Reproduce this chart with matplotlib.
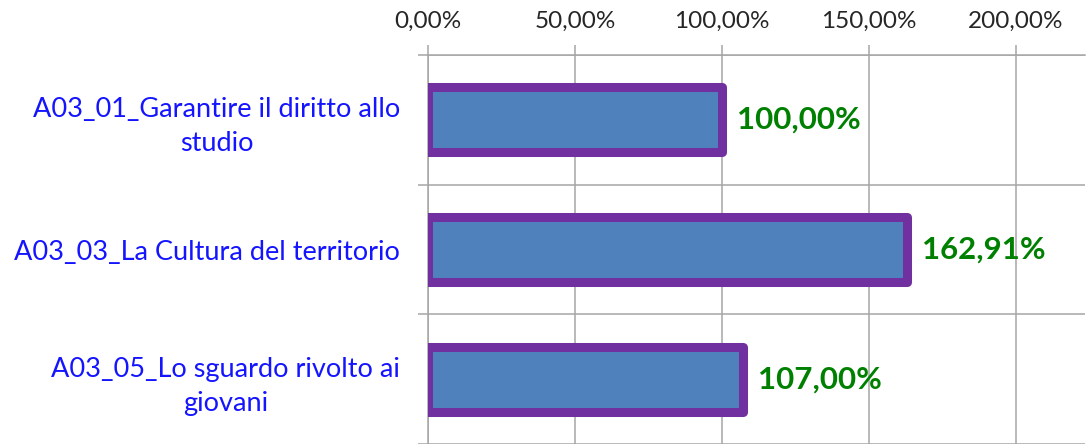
import matplotlib
matplotlib.use("Agg")
import matplotlib.pyplot as plt
from matplotlib.ticker import FuncFormatter, FixedLocator
import textwrap

# data
categories = ["A03_01_Garantire il diritto allo studio",
              "A03_03_La Cultura del territorio",
              "A03_05_Lo sguardo rivolto ai giovani"]
values = [100.00, 162.91, 107.00]
x_ticks = [0, 50, 100, 150, 200]

def pct(v, pos=None):
    return f"{v:.2f}".replace(".", ",") + "%"

plt.rcParams['font.family'] = ['Lato', 'DejaVu Sans']

fig = plt.figure(figsize=(10.9, 4.44), dpi=100)
ax = fig.add_axes([428 / 1090, 0.0, (1085 - 428) / 1090, 1 - 55 / 444])

grid_c = '#A6A6A6'
ypos = list(range(len(categories)))
ax.barh(ypos, values, height=0.5, color='#4F81BD', edgecolor='#7030A0',
        linewidth=6.5, joinstyle='round', zorder=3)

# data labels, offset in points from the bar end
for y, v in zip(ypos, values):
    ax.annotate(pct(v), (v, y), xytext=(11, 0), textcoords='offset points',
                color='#008000', fontsize=22.5, fontweight='bold',
                ha='left', va='center', zorder=4)

ax.set_xlim(0, 223.5)
ax.set_ylim(len(categories) - 0.5, -0.5)

ax.xaxis.tick_top()
ax.set_xticks(x_ticks)
ax.xaxis.set_major_formatter(FuncFormatter(pct))
ax.tick_params(axis='x', which='major', length=7.5, width=1.1, color=grid_c,
               labelsize=17.5, labelcolor='#262626', pad=9)
ax.grid(axis='x', which='major', color=grid_c, linewidth=1.1, zorder=0)

ax.set_yticks(ypos)
ax.set_yticklabels([textwrap.fill(c, 32) for c in categories],
                   color='#1414FF', fontsize=19.5, multialignment='center',
                   linespacing=1.45)
ax.tick_params(axis='y', which='major', length=0, pad=20)
ax.yaxis.set_minor_locator(FixedLocator([-0.5, 0.5, 1.5, 2.5]))
ax.tick_params(axis='y', which='minor', length=7.5, width=1.1, color=grid_c)
ax.grid(axis='y', which='minor', color=grid_c, linewidth=1.1, zorder=0)

for s in ['right', 'bottom']:
    ax.spines[s].set_visible(False)
for s in ['top', 'left']:
    ax.spines[s].set_color(grid_c)
    ax.spines[s].set_linewidth(1.1)

fig.savefig("out.png", dpi=100)
